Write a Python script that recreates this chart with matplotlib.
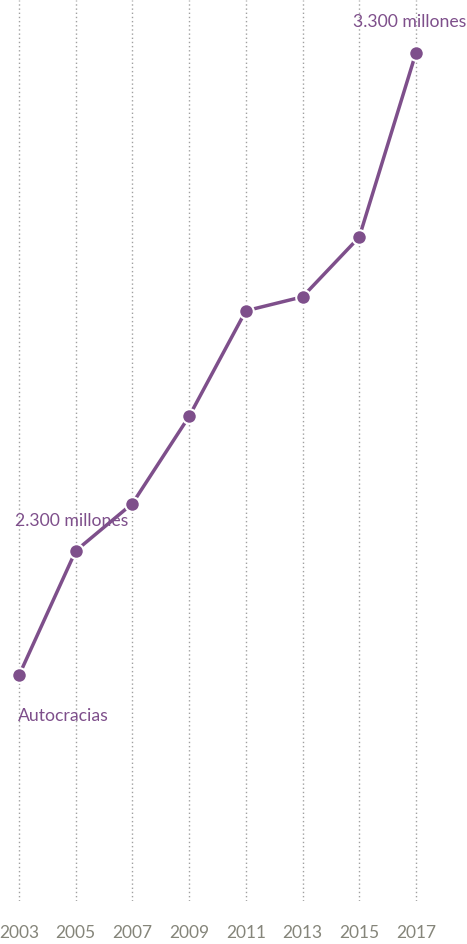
import matplotlib.pyplot as plt
import numpy as np

# poblacion en autocracias (millones)
years = [2003, 2005, 2007, 2009, 2011, 2013, 2015, 2017]
poblacion = [2050, 2300, 2395, 2570, 2782, 2810, 2930, 3300]
tick_labels = ['2003', '2005', '2007', '2009', '2011', '2013', '2015', '2017']

morado = '#7e4f8b'
gris = '#85857a'

plt.rcParams['font.family'] = ['Lato', 'DejaVu Sans']

fig = plt.figure(figsize=(4.67, 9.44), dpi=100)
ax = fig.add_axes([0, 43/944, 1, 901/944])

# lineas verticales punteadas
for yr in years:
    ax.axvline(yr, color='#a0a0a0', linestyle=(0, (1, 2)), linewidth=1, zorder=1)

ax.plot(years, poblacion, color=morado, linewidth=2.5, marker='o', markersize=10.5,
        markeredgecolor='white', markeredgewidth=1.5, zorder=3)

ax.annotate('3.300 millones', (years[-1], poblacion[-1]), xytext=(-4.7, 22),
            textcoords='offset points', ha='center', va='center', color=morado, fontsize=12.7)
ax.annotate('2.300 millones', (years[1], poblacion[1]), xytext=(-3.2, 21.6),
            textcoords='offset points', ha='center', va='center', color=morado, fontsize=12.7)
ax.annotate('Autocracias', (years[0], poblacion[0]), xytext=(-0.7, -29),
            textcoords='offset points', ha='left', va='center', color=morado, fontsize=12.7)

ax.set_xlim(2002.33, 2018.8)
ax.set_ylim(1597, 3406)
ax.set_xticks(years)
ax.set_xticklabels(tick_labels)
ax.set_yticks([])
ax.tick_params(axis='x', length=0, pad=17, labelsize=12.5, labelcolor=gris)
for s in ax.spines.values():
    s.set_visible(False)

fig.savefig('out.png', dpi=100)
